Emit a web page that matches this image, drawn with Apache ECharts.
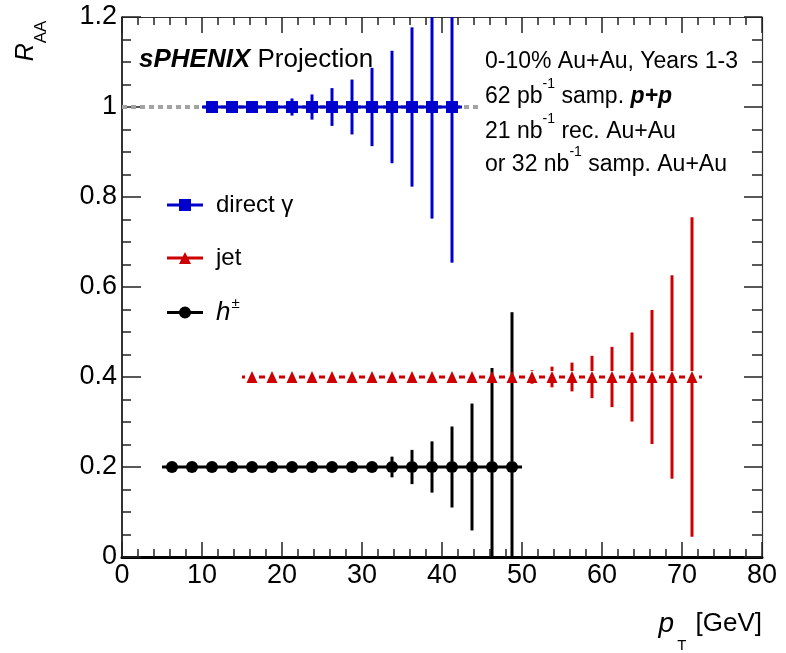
<!DOCTYPE html>
<html>
<head>
<meta charset="utf-8">
<script src="https://cdn.jsdelivr.net/npm/echarts@6.0.0/dist/echarts.min.js"></script>
<style>
  html, body { margin: 0; padding: 0; background: #fff; }
  #chart { width: 786px; height: 653px; }
</style>
</head>
<body>
<div id="chart"></div>
<script>
// sPHENIX R_AA projection: direct photons, jets, charged hadrons

const binHalf = 1.25;   // half width of every pT bin

const gammaX = [11.25, 13.75, 16.25, 18.75, 21.25, 23.75, 26.25, 28.75, 31.25, 33.75, 36.25, 38.75, 41.25];
const gammaY = [1, 1, 1, 1, 1, 1, 1, 1, 1, 1, 1, 1, 1];
const gammaErr = [0.004, 0.006, 0.009, 0.013, 0.019, 0.028, 0.042, 0.061, 0.087, 0.125, 0.177, 0.248, 0.346];

const jetX = [16.25, 18.75, 21.25, 23.75, 26.25, 28.75, 31.25, 33.75, 36.25, 38.75, 41.25, 43.75,
              46.25, 48.75, 51.25, 53.75, 56.25, 58.75, 61.25, 63.75, 66.25, 68.75, 71.25];
const jetY = [0.4, 0.4, 0.4, 0.4, 0.4, 0.4, 0.4, 0.4, 0.4, 0.4, 0.4, 0.4,
              0.4, 0.4, 0.4, 0.4, 0.4, 0.4, 0.4, 0.4, 0.4, 0.4, 0.4];
const jetErr = [0.002, 0.002, 0.002, 0.002, 0.003, 0.003, 0.003, 0.004, 0.004, 0.005, 0.005, 0.007,
                0.009, 0.011, 0.015, 0.023, 0.032, 0.047, 0.067, 0.099, 0.149, 0.226, 0.355];

const hadX = [6.25, 8.75, 11.25, 13.75, 16.25, 18.75, 21.25, 23.75, 26.25, 28.75, 31.25, 33.75,
              36.25, 38.75, 41.25, 43.75, 46.25, 48.75];
const hadY = [0.2, 0.2, 0.2, 0.2, 0.2, 0.2, 0.2, 0.2, 0.2, 0.2, 0.2, 0.2,
              0.2, 0.2, 0.2, 0.2, 0.2, 0.2];
const hadErr = [0.002, 0.002, 0.002, 0.002, 0.003, 0.003, 0.003, 0.004, 0.004, 0.005, 0.011, 0.023,
                0.038, 0.057, 0.09, 0.141, 0.22, 0.344];

const unityLine = [[0, 1], [44.5, 1]];

const xTicks = { min: 0, max: 80, step: 10 };
const yTicks = { min: 0, max: 1.2, step: 0.2 };

const BLUE = '#0000cc';
const RED = '#cc0000';
const BLACK = '#000000';
const SANS = "'Liberation Sans', Arial, sans-serif";

// error bars like ROOT: x error = bin width, y error not drawn inside the marker
function errorBars(color, markHalf, hGap) {
    return function (params, api) {
        const x = api.value(0), y = api.value(1), e = api.value(2);
        const c = api.coord([x, y]);
        const lo = api.coord([x - binHalf, y]);
        const hi = api.coord([x + binHalf, y]);
        const up = api.coord([x, y + e]);
        const dn = api.coord([x, y - e]);
        const style = { stroke: color, lineWidth: 3 };
        const kids = [
            { type: 'line', shape: { x1: lo[0], y1: c[1], x2: c[0] - hGap, y2: c[1] }, style: style },
            { type: 'line', shape: { x1: c[0] + hGap, y1: c[1], x2: hi[0], y2: c[1] }, style: style }
        ];
        if (c[1] - up[1] > markHalf) {
            kids.push({ type: 'line', shape: { x1: c[0], y1: c[1] - markHalf, x2: c[0], y2: up[1] }, style: style });
            kids.push({ type: 'line', shape: { x1: c[0], y1: c[1] + markHalf, x2: c[0], y2: dn[1] }, style: style });
        }
        return { type: 'group', children: kids };
    };
}

function barData(xs, ys, es) {
    return xs.map((x, i) => [x, ys[i], es[i]]);
}
function pointData(xs, ys) {
    return xs.map((x, i) => [x, ys[i]]);
}

function xAxisDef(pos, showLabel, tickLen, minorLen, lineW, lineColor) {
    return {
        type: 'value', position: pos,
        min: xTicks.min, max: xTicks.max, interval: xTicks.step,
        axisLine: { show: true, onZero: false, lineStyle: { color: lineColor, width: lineW } },
        axisTick: { show: true, inside: true, length: tickLen, lineStyle: { color: '#222', width: 1.5 } },
        minorTick: { show: true, splitNumber: 5, length: minorLen, lineStyle: { color: '#222', width: 1.5 } },
        splitLine: { show: false },
        axisLabel: { show: showLabel, color: '#000', fontSize: 27, fontFamily: SANS, margin: 5 }
    };
}
function yAxisDef(pos, showLabel, tickLen, minorLen, lineW, lineColor) {
    return {
        type: 'value', position: pos,
        min: yTicks.min, max: yTicks.max, interval: yTicks.step,
        axisLine: { show: true, onZero: false, lineStyle: { color: lineColor, width: lineW } },
        axisTick: { show: true, inside: true, length: tickLen, lineStyle: { color: '#222', width: 1.5 } },
        minorTick: { show: true, splitNumber: 4, length: minorLen, lineStyle: { color: '#222', width: 1.5 } },
        splitLine: { show: false },
        axisLabel: { show: showLabel, color: '#000', fontSize: 27, fontFamily: SANS, margin: 5 }
    };
}

const chart = echarts.init(document.getElementById('chart'), null, { renderer: 'canvas' });

const option = {
    animation: false,
    backgroundColor: '#ffffff',
    grid: { left: 122, right: 24, top: 17, bottom: 96, outerBoundsMode: 'none' },
    xAxis: [
        xAxisDef('bottom', true, 15, 8, 3, '#000'),
        xAxisDef('top', false, 16, 8, 1.2, '#333')
    ],
    yAxis: [
        yAxisDef('left', true, 19, 9, 1.6, '#000'),
        yAxisDef('right', false, 18, 10, 1.2, '#333')
    ],
    legend: {
        orient: 'vertical', left: 162, top: 185,
        itemWidth: 36, itemHeight: 12, itemGap: 23,
        selectedMode: false,
        itemStyle: { opacity: 1 },
        textStyle: {
            fontSize: 24, fontFamily: SANS, color: '#000', lineHeight: 30, padding: [0, 0, 0, 8],
            rich: {
                i: { fontSize: 26, fontStyle: 'italic', fontFamily: SANS, color: '#000' },
                sup: { fontSize: 15, fontFamily: SANS, color: '#000', padding: [0, 0, 18, 1] }
            }
        },
        formatter: function (name) {
            return name === 'h±' ? '{i|h}{sup|±}' : name;
        },
        data: [
            { name: 'direct γ', icon: 'path://M0,4.5h36v3h-36z M12,0h12v12h-12z' },
            { name: 'jet', icon: 'path://M0,4.5h36v3h-36z M18,0L24,12L12,12z' },
            { name: 'h±', icon: 'path://M0,4.5h36v3h-36z M12,6a6,6 0 1,1 12,0a6,6 0 1,1 -12,0z' }
        ]
    },
    series: [
        {
            type: 'line', data: unityLine, symbol: 'none', silent: true, z: 1,
            lineStyle: { color: '#a3a3a3', width: 4, type: [5, 4] }
        },
        {
            type: 'custom', data: barData(hadX, hadY, hadErr), clip: true, z: 2,
            renderItem: errorBars(BLACK, 5.5, 0), encode: { x: 0, y: 1 }, silent: true
        },
        {
            type: 'custom', data: barData(jetX, jetY, jetErr), clip: true, z: 2,
            renderItem: errorBars(RED, 6, 7), encode: { x: 0, y: 1 }, silent: true
        },
        {
            type: 'custom', data: barData(gammaX, gammaY, gammaErr), clip: true, z: 2,
            renderItem: errorBars(BLUE, 6, 0), encode: { x: 0, y: 1 }, silent: true
        },
        {
            name: 'direct γ', type: 'scatter', data: pointData(gammaX, gammaY), z: 5,
            symbol: 'rect', symbolSize: 12, itemStyle: { color: BLUE, opacity: 1 }
        },
        {
            name: 'jet', type: 'scatter', data: pointData(jetX, jetY), z: 5,
            symbol: 'triangle', symbolSize: [11, 12], itemStyle: { color: RED, opacity: 1 }
        },
        {
            name: 'h±', type: 'scatter', data: pointData(hadX, hadY), z: 5,
            symbol: 'circle', symbolSize: 12, itemStyle: { color: BLACK, opacity: 1 }
        }
    ],
    graphic: [
        {
            type: 'text', x: 139, y: 60, silent: true,
            style: {
                text: '{b|sPHENIX} Projection', verticalAlign: 'middle',
                fontSize: 26, fontFamily: SANS, fill: '#000',
                rich: { b: { fontSize: 26, fontFamily: SANS, fontWeight: 'bold', fontStyle: 'italic', fill: '#000' } }
            }
        },
        {
            type: 'text', x: 485, y: 62, silent: true,
            style: { text: '0-10% Au+Au, Years 1-3', verticalAlign: 'middle', fontSize: 23, fontFamily: SANS, fill: '#000' }
        },
        {
            type: 'text', x: 485, y: 97, silent: true,
            style: {
                text: '62 pb{s|-1} samp. {bi|p+p}', verticalAlign: 'middle', fontSize: 23, fontFamily: SANS, fill: '#000',
                rich: {
                    s: { fontSize: 14, fontFamily: SANS, fill: '#000', padding: [0, 0, 26, 0] },
                    bi: { fontSize: 23, fontFamily: SANS, fontWeight: 'bold', fontStyle: 'italic', fill: '#000' }
                }
            }
        },
        {
            type: 'text', x: 485, y: 132, silent: true,
            style: {
                text: '21 nb{s|-1} rec. Au+Au', verticalAlign: 'middle', fontSize: 23, fontFamily: SANS, fill: '#000',
                rich: { s: { fontSize: 14, fontFamily: SANS, fill: '#000', padding: [0, 0, 26, 0] } }
            }
        },
        {
            type: 'text', x: 485, y: 165, silent: true,
            style: {
                text: 'or 32 nb{s|-1} samp. Au+Au', verticalAlign: 'middle', fontSize: 23, fontFamily: SANS, fill: '#000',
                rich: { s: { fontSize: 14, fontFamily: SANS, fill: '#000', padding: [0, 0, 26, 0] } }
            }
        },
        {
            // y axis title, reads bottom to top
            type: 'text', x: 26, y: 41, rotation: Math.PI / 2, silent: true,
            style: {
                text: '{r|R}{s|AA}', align: 'center', verticalAlign: 'middle', fill: '#000',
                rich: {
                    r: { fontSize: 25, fontFamily: SANS, fontStyle: 'italic', fill: '#000' },
                    s: { fontSize: 17, fontFamily: SANS, fill: '#000', padding: [30, 0, 0, 0] }
                }
            }
        },
        {
            type: 'text', x: 762, y: 624, silent: true,
            style: {
                text: '{p|p}{t|T} [GeV]', align: 'right', verticalAlign: 'middle',
                fontSize: 26, fontFamily: SANS, fill: '#000',
                rich: {
                    p: { fontSize: 28, fontFamily: SANS, fontStyle: 'italic', fill: '#000', padding: [0, 3, 0, 0] },
                    t: { fontSize: 15, fontFamily: SANS, fill: '#000', padding: [44, 2, 0, 0] }
                }
            }
        }
    ]
};

chart.setOption(option);
window.addEventListener('resize', () => chart.resize());
</script>
</body>
</html>
